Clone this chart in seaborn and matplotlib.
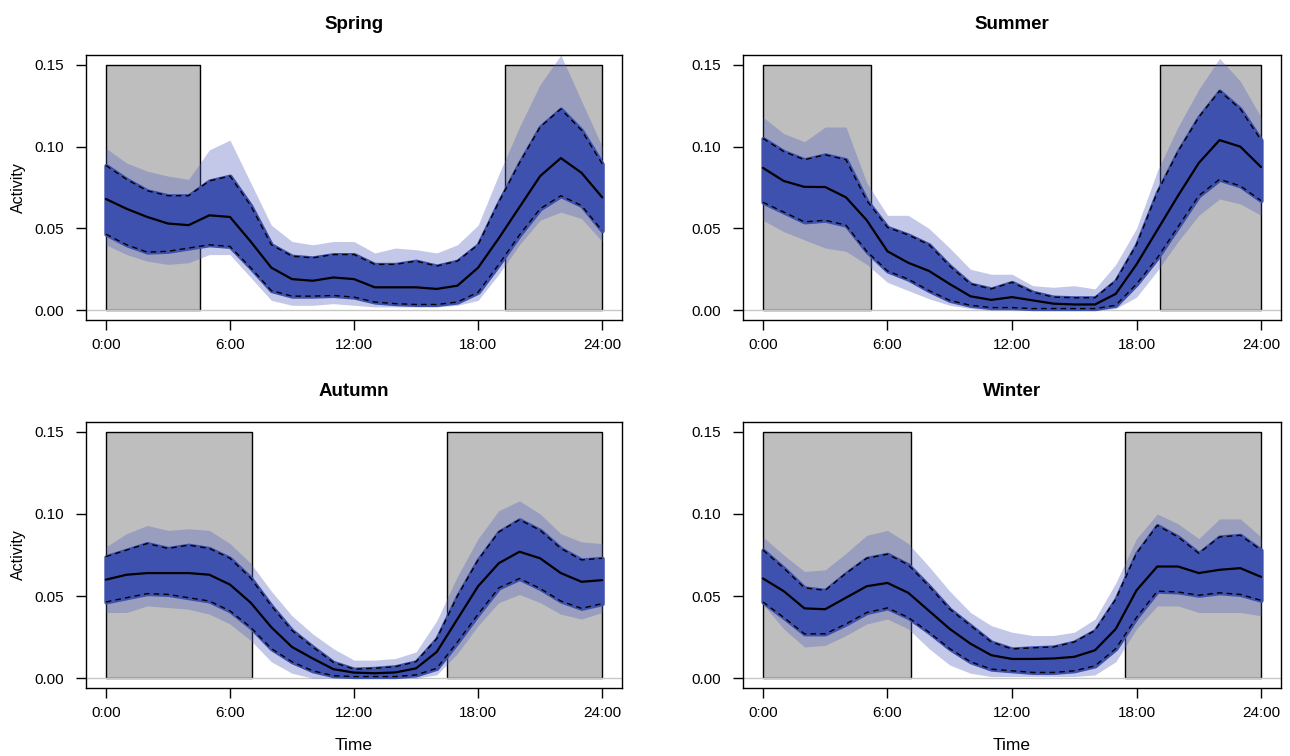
import numpy as np
import pandas as pd
import matplotlib
matplotlib.use("Agg")
import matplotlib.pyplot as plt
import seaborn as sns

seasons = ["Spring", "Summer", "Autumn", "Winter"]
hours = list(range(25))
x_ticks = [0, 6, 12, 18, 24]
x_tick_labels = ["0:00", "6:00", "12:00", "18:00", "24:00"]
y_ticks = [0.00, 0.05, 0.10, 0.15]
y_tick_labels = ["0.00", "0.05", "0.10", "0.15"]

# night periods (hours)
night_morning_end = [4.55, 5.2, 7.05, 7.15]
night_evening_start = [19.3, 19.15, 16.5, 17.45]

spring_mean = [0.068, 0.062, 0.057, 0.053, 0.052, 0.058, 0.057, 0.042, 0.026, 0.019, 0.018, 0.020, 0.019,
               0.014, 0.014, 0.014, 0.013, 0.015, 0.026, 0.044, 0.063, 0.082, 0.093, 0.084, 0.069]
spring_upper = [0.0885, 0.080, 0.073, 0.070, 0.070, 0.079, 0.082, 0.064, 0.040, 0.033, 0.032, 0.034, 0.034,
                0.028, 0.028, 0.030, 0.027, 0.030, 0.040, 0.066, 0.090, 0.112, 0.123, 0.110, 0.0895]
spring_lower = [0.0465, 0.040, 0.0355, 0.036, 0.038, 0.040, 0.039, 0.026, 0.012, 0.0086, 0.0086, 0.009, 0.008,
                0.005, 0.004, 0.0035, 0.0035, 0.005, 0.011, 0.028, 0.046, 0.062, 0.070, 0.064, 0.0486]
spring_max = [0.099, 0.090, 0.085, 0.082, 0.080, 0.098, 0.104, 0.078, 0.052, 0.042, 0.040, 0.042, 0.042,
              0.035, 0.038, 0.037, 0.035, 0.040, 0.052, 0.083, 0.112, 0.138, 0.156, 0.128, 0.100]
spring_min = [0.040, 0.034, 0.030, 0.028, 0.029, 0.034, 0.034, 0.020, 0.006, 0.003, 0.003, 0.004, 0.003,
              0.002, 0.002, 0.002, 0.002, 0.003, 0.006, 0.022, 0.040, 0.055, 0.060, 0.056, 0.042]

summer_mean = [0.087, 0.079, 0.0754, 0.0753, 0.069, 0.055, 0.036, 0.029, 0.024, 0.016, 0.0085, 0.0063, 0.008,
               0.006, 0.004, 0.0035, 0.0035, 0.010, 0.028, 0.049, 0.070, 0.090, 0.104, 0.100, 0.0875]
summer_upper = [0.105, 0.097, 0.092, 0.095, 0.092, 0.067, 0.0506, 0.046, 0.040, 0.027, 0.016, 0.013, 0.017,
                0.011, 0.008, 0.0076, 0.0076, 0.018, 0.040, 0.072, 0.097, 0.118, 0.134, 0.123, 0.104]
summer_lower = [0.066, 0.060, 0.054, 0.055, 0.052, 0.036, 0.024, 0.019, 0.012, 0.006, 0.003, 0.0016, 0.0016,
                0.001, 0.001, 0.001, 0.001, 0.003, 0.016, 0.032, 0.051, 0.070, 0.080, 0.076, 0.067]
summer_max = [0.118, 0.108, 0.103, 0.112, 0.112, 0.078, 0.058, 0.058, 0.050, 0.038, 0.025, 0.022, 0.022,
              0.015, 0.014, 0.015, 0.013, 0.028, 0.050, 0.085, 0.112, 0.135, 0.154, 0.140, 0.118]
summer_min = [0.055, 0.048, 0.043, 0.038, 0.036, 0.028, 0.017, 0.012, 0.007, 0.003, 0.001, 0.0, 0.0,
              0.0, 0.0, 0.0, 0.0, 0.001, 0.008, 0.024, 0.042, 0.058, 0.068, 0.065, 0.058]

autumn_mean = [0.060, 0.063, 0.064, 0.064, 0.064, 0.063, 0.057, 0.046, 0.031, 0.019, 0.012, 0.0055, 0.0034,
               0.003, 0.0035, 0.006, 0.016, 0.036, 0.056, 0.070, 0.077, 0.073, 0.064, 0.0587, 0.0597]
autumn_upper = [0.074, 0.078, 0.082, 0.079, 0.081, 0.079, 0.073, 0.061, 0.044, 0.029, 0.019, 0.0096, 0.0055,
                0.006, 0.007, 0.010, 0.024, 0.050, 0.072, 0.089, 0.0965, 0.090, 0.079, 0.072, 0.073]
autumn_lower = [0.0464, 0.049, 0.0515, 0.051, 0.049, 0.047, 0.041, 0.031, 0.018, 0.010, 0.0045, 0.0015, 0.001,
                0.001, 0.001, 0.002, 0.006, 0.022, 0.039, 0.055, 0.0607, 0.0546, 0.047, 0.0425, 0.0454]
autumn_max = [0.080, 0.088, 0.093, 0.090, 0.091, 0.090, 0.082, 0.070, 0.053, 0.038, 0.027, 0.018, 0.011,
              0.011, 0.012, 0.016, 0.035, 0.062, 0.085, 0.102, 0.108, 0.100, 0.088, 0.083, 0.082]
autumn_min = [0.040, 0.040, 0.044, 0.043, 0.042, 0.039, 0.033, 0.023, 0.010, 0.003, 0.0, 0.0, 0.0,
              0.0, 0.0, 0.0, 0.002, 0.015, 0.032, 0.046, 0.051, 0.046, 0.039, 0.036, 0.040]

winter_mean = [0.0607, 0.053, 0.0425, 0.042, 0.049, 0.056, 0.058, 0.052, 0.041, 0.030, 0.021, 0.014, 0.0117,
               0.0117, 0.012, 0.013, 0.017, 0.030, 0.0535, 0.068, 0.068, 0.064, 0.066, 0.067, 0.0617]
winter_upper = [0.078, 0.067, 0.055, 0.0535, 0.0638, 0.073, 0.0755, 0.069, 0.056, 0.042, 0.032, 0.022, 0.0178,
                0.0185, 0.019, 0.022, 0.029, 0.048, 0.076, 0.093, 0.086, 0.076, 0.086, 0.087, 0.078]
winter_lower = [0.0464, 0.037, 0.027, 0.027, 0.033, 0.040, 0.0428, 0.037, 0.028, 0.018, 0.010, 0.0055, 0.0045,
                0.0035, 0.0035, 0.0045, 0.0075, 0.018, 0.037, 0.053, 0.0525, 0.0505, 0.052, 0.051, 0.0474]
winter_max = [0.086, 0.075, 0.065, 0.066, 0.076, 0.087, 0.090, 0.082, 0.068, 0.053, 0.040, 0.032, 0.028,
              0.026, 0.026, 0.028, 0.036, 0.058, 0.085, 0.100, 0.094, 0.085, 0.097, 0.097, 0.086]
winter_min = [0.045, 0.030, 0.019, 0.020, 0.026, 0.033, 0.036, 0.030, 0.018, 0.008, 0.003, 0.001, 0.001,
              0.001, 0.001, 0.001, 0.002, 0.010, 0.030, 0.044, 0.044, 0.040, 0.040, 0.040, 0.038]

means = [spring_mean, summer_mean, autumn_mean, winter_mean]
uppers = [spring_upper, summer_upper, autumn_upper, winter_upper]
lowers = [spring_lower, summer_lower, autumn_lower, winter_lower]
maxs = [spring_max, summer_max, autumn_max, winter_max]
mins = [spring_min, summer_min, autumn_min, winter_min]

sns.set_theme(style="white")
plt.rcParams["font.family"] = ["Liberation Sans", "DejaVu Sans"]

BLUE = "#3F51AE"
GRAY = "#BEBEBE"

fig = plt.figure(figsize=(12.9, 7.56), dpi=100)
positions = [
    [0.0667, 0.5767, 0.4155, 0.3505],
    [0.5760, 0.5767, 0.4170, 0.3505],
    [0.0667, 0.0899, 0.4155, 0.3519],
    [0.5760, 0.0899, 0.4170, 0.3519],
]

for i, season in enumerate(seasons):
    ax = fig.add_axes(positions[i])
    df = pd.DataFrame({"hour": hours, "mean": means[i], "upper": uppers[i], "lower": lowers[i],
                       "max": maxs[i], "min": mins[i]})
    # night shading
    ax.fill_between([0, night_morning_end[i]], 0, 0.15, facecolor=GRAY, edgecolor="black", lw=1.0, zorder=1)
    ax.fill_between([night_evening_start[i], 24], 0, 0.15, facecolor=GRAY, edgecolor="black", lw=1.0, zorder=1)
    ax.axhline(0, color="#C8C8C8", lw=1.0, zorder=1.5)
    # posterior band
    ax.fill_between(df["hour"], df["min"], df["max"], color="#5563C0", alpha=0.35, lw=0, zorder=2)
    ax.fill_between(df["hour"], df["lower"], df["upper"], facecolor=BLUE, edgecolor=BLUE, lw=3, zorder=3)
    sns.lineplot(data=df, x="hour", y="upper", ax=ax, color="black", lw=1.0, linestyle=(0, (4, 3)), zorder=4)
    sns.lineplot(data=df, x="hour", y="lower", ax=ax, color="black", lw=1.0, linestyle=(0, (4, 3)), zorder=4)
    sns.lineplot(data=df, x="hour", y="mean", ax=ax, color="black", lw=1.6, zorder=5)

    ax.set_xlim(-0.96, 24.96)
    ax.set_ylim(-0.006, 0.156)
    ax.set_xticks(x_ticks)
    ax.set_xticklabels(x_tick_labels)
    ax.set_yticks(y_ticks)
    ax.set_yticklabels(y_tick_labels)
    ax.tick_params(axis="both", which="major", direction="out", length=7, width=1, colors="black",
                   labelsize=11, left=True, bottom=True)
    ax.tick_params(axis="y", pad=9)
    ax.tick_params(axis="x", pad=6)
    for s in ax.spines.values():
        s.set_color("black")
        s.set_linewidth(1.0)
        s.set_visible(True)
    ax.set_title(season, fontsize=13.5, fontweight="bold", pad=19, color="black")
    ax.set_xlabel("Time" if i >= 2 else "", fontsize=12.5, labelpad=13, color="black")
    ax.set_ylabel("Activity" if i % 2 == 0 else "", fontsize=11.5, labelpad=6, color="black")
    ax.grid(False)

fig.savefig("out.png", dpi=100, facecolor="white")
